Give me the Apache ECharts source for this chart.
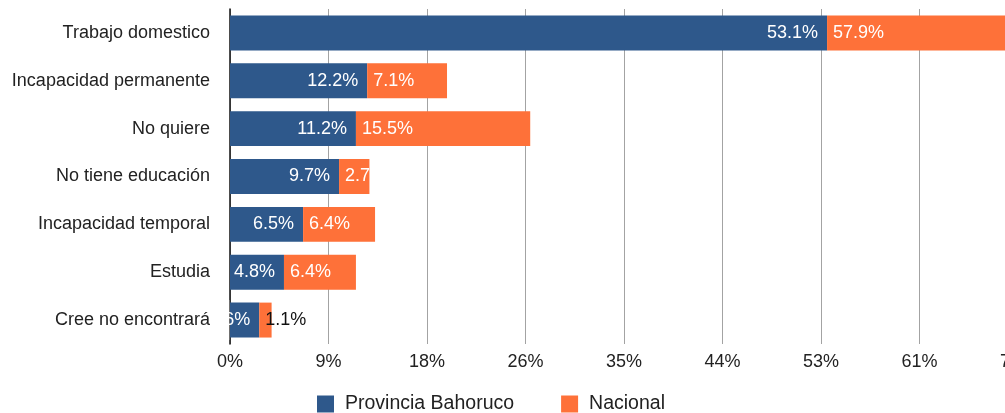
<!DOCTYPE html>
<html>
<head>
<meta charset="utf-8">
<script src="https://cdn.jsdelivr.net/npm/echarts@6/dist/echarts.min.js"></script>
<style>
  html, body { margin: 0; padding: 0; background: #fff; }
  #chart { width: 1005px; height: 413px; }
</style>
</head>
<body>
<div id="chart"></div>
<script>
var categories = ['Trabajo domestico', 'Incapacidad permanente', 'No quiere', 'No tiene educación',
    'Incapacidad temporal', 'Estudia', 'Cree no encontrará'];
var provincia = [53.1, 12.2, 11.2, 9.7, 6.5, 4.8, 2.6];
var nacional = [57.9, 7.1, 15.5, 2.7, 6.4, 6.4, 1.1];
var tickLabels = ['0%', '9%', '18%', '26%', '35%', '44%', '53%', '61%', '70%'];
var tickStep = 8.76;

var font = 'Helvetica, "Liberation Sans", Arial, sans-serif';
var chart = echarts.init(document.getElementById('chart'));

var nacData = nacional.map(function (v, i) {
    // the last one is too small for the label, it is written in black
    if (i === nacional.length - 1) {
        return { value: v, label: { color: '#111' } };
    }
    return v;
});

var option = {
    animation: false,
    textStyle: { fontFamily: font },
    grid: { left: 230, top: 9, width: 788, height: 335, outerBoundsMode: 'none' },
    legend: {
        bottom: -6,
        left: 312,
        itemWidth: 17,
        itemHeight: 17,
        itemGap: 47,
        icon: 'rect',
        textStyle: { fontSize: 19.5, color: '#222', fontFamily: font, padding: [0, 0, 0, 6] },
        data: ['Provincia Bahoruco', 'Nacional']
    },
    xAxis: {
        type: 'value',
        min: 0,
        max: tickStep * 8,
        interval: tickStep,
        axisLine: { show: false },
        axisTick: { show: false },
        splitLine: { lineStyle: { color: '#a3a3a3', width: 1 } },
        axisLabel: {
            fontSize: 18,
            color: '#222',
            margin: 9,
            formatter: function (v) { return tickLabels[Math.round(v / tickStep)]; }
        }
    },
    yAxis: {
        type: 'category',
        inverse: true,
        data: categories,
        axisTick: { show: false },
        axisLine: { lineStyle: { color: '#111', width: 1.5 } },
        axisLabel: { fontSize: 18, color: '#222', margin: 20 }
    },
    series: [
        {
            name: 'Provincia Bahoruco',
            type: 'bar',
            stack: 'total',
            barCategoryGap: '27%',
            itemStyle: { color: '#2e588b' },
            label: {
                show: true,
                position: 'insideRight',
                distance: 9,
                color: '#fff',
                fontSize: 18,
                formatter: '{c}%'
            },
            data: provincia
        },
        {
            name: 'Nacional',
            type: 'bar',
            stack: 'total',
            itemStyle: { color: '#fe7139' },
            label: {
                show: true,
                position: 'insideLeft',
                distance: 6,
                color: '#fff',
                fontSize: 18,
                formatter: '{c}%'
            },
            data: nacData
        }
    ],
    graphic: [
        {
            // hides the part of a label that runs past the axis
            type: 'rect',
            shape: { x: 211, y: 300, width: 18.2, height: 40 },
            style: { fill: '#fff' },
            z: 100
        }
    ]
};

chart.setOption(option);
window.addEventListener('resize', chart.resize);
</script>
</body>
</html>
